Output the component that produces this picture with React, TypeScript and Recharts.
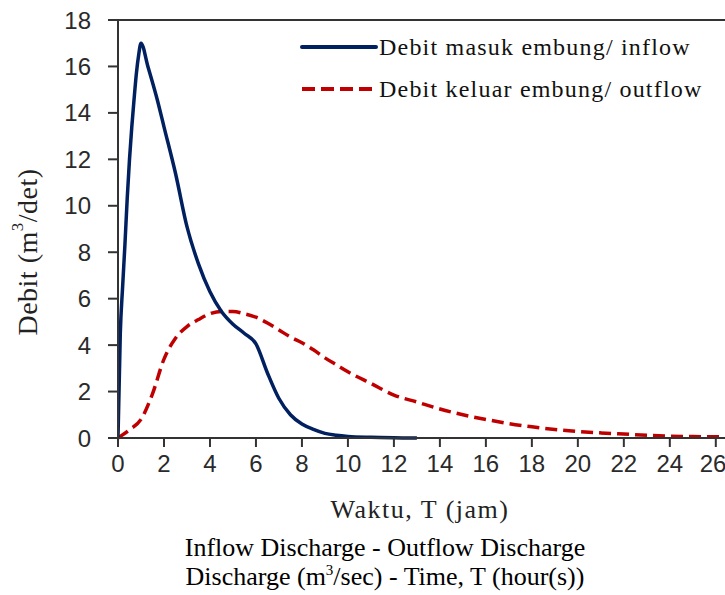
import React from 'react';
import {
  LineChart,
  Line,
  XAxis,
  YAxis,
  ReferenceLine,
} from 'recharts';

// waktu (jam) dan debit (m3/det)
const inflowTime = [0, 0.1, 0.2, 0.3, 0.4, 0.5, 0.6, 0.7, 0.8, 0.9, 1.0, 1.3, 1.7, 2, 2.5, 3, 3.5, 4, 4.5, 5, 5.5, 6, 6.5, 7, 7.5, 8, 8.5, 9, 9.5, 10, 11, 12, 13];
const inflowQ = [0, 4.5, 6.5, 8.3, 10.3, 12, 13.4, 14.6, 15.7, 16.5, 17, 16, 14.6, 13.4, 11.4, 9.1, 7.5, 6.3, 5.45, 4.9, 4.5, 4.05, 2.8, 1.7, 1.0, 0.6, 0.37, 0.2, 0.12, 0.07, 0.03, 0.01, 0];

const outflowTime = [0, 0.5, 1, 1.5, 2, 2.5, 3, 3.5, 4, 4.5, 5, 5.5, 6, 6.5, 7, 7.5, 8, 8.5, 9, 9.5, 10, 11, 12, 13, 14, 15, 16, 17, 18, 19, 20, 21, 22, 23, 24, 25, 26, 26.4];
const outflowQ = [0, 0.35, 0.8, 1.9, 3.4, 4.3, 4.8, 5.1, 5.35, 5.45, 5.45, 5.35, 5.2, 4.95, 4.65, 4.35, 4.1, 3.8, 3.45, 3.15, 2.85, 2.35, 1.85, 1.55, 1.25, 1.0, 0.8, 0.62, 0.48, 0.37, 0.28, 0.22, 0.17, 0.12, 0.08, 0.06, 0.05, 0.05];

const xTicks = [0, 2, 4, 6, 8, 10, 12, 14, 16, 18, 20, 22, 24, 26];
const yTicks = [0, 2, 4, 6, 8, 10, 12, 14, 16, 18];

const inflowName = 'Debit masuk embung/ inflow';
const outflowName = 'Debit keluar embung/ outflow';

const inflowData = inflowTime.map((t, i) => ({ t, q: inflowQ[i] }));
const outflowData = outflowTime.map((t, i) => ({ t, q: outflowQ[i] }));

const BLUE = '#002060';
const RED = '#C00000';
const AXIS = '#333333';
const tickFont = { fontFamily: '"Liberation Sans", Arial, sans-serif', fontSize: 24, fill: '#2a2a2a' };
const serif = '"Liberation Serif", "Times New Roman", serif';

const YLabel = () => (
  <text
    x={27}
    y={252}
    transform="rotate(-90 27 252)"
    textAnchor="middle"
    dominantBaseline="central"
    fontFamily={serif}
    fontSize={28}
    letterSpacing={0.5}
    fill="#222"
  >
    Debit (m<tspan dy={-10} fontSize={17}>3</tspan>
    <tspan dy={10}>/det)</tspan>
  </text>
);

const XLabel = () => (
  <text x={420} y={518} textAnchor="middle" fontFamily={serif} fontSize={26} letterSpacing={1.5} fill="#222">
    Waktu, T (jam)
  </text>
);

export default function App() {
  return (
    <div style={{ position: 'absolute', left: 0, top: 0, width: 725, height: 595, background: '#fff', overflow: 'hidden' }}>
      <LineChart width={725} height={595} margin={{ top: 20, right: 0, left: 0, bottom: 97 }}>
        <XAxis
          dataKey="t"
          type="number"
          domain={[0, 26.4]}
          ticks={xTicks}
          allowDataOverflow
          height={60}
          tickSize={9}
          tickMargin={8}
          tick={tickFont}
          stroke={AXIS}
          strokeWidth={2}
          label={<XLabel />}
        />
        <YAxis
          type="number"
          domain={[0, 18]}
          ticks={yTicks}
          width={118}
          tickSize={10}
          tickMargin={17}
          tick={tickFont}
          stroke={AXIS}
          strokeWidth={2}
          label={<YLabel />}
        />
        <ReferenceLine y={18} stroke={AXIS} strokeWidth={2} />
        <Line
          data={outflowData}
          dataKey="q"
          name={outflowName}
          type="monotone"
          stroke={RED}
          strokeWidth={3.5}
          strokeDasharray="12 6"
          dot={false}
          isAnimationActive={false}
        />
        <Line
          data={inflowData}
          dataKey="q"
          name={inflowName}
          type="monotone"
          stroke={BLUE}
          strokeWidth={3.5}
          dot={false}
          isAnimationActive={false}
        />
      </LineChart>

      {/* legenda */}
      <div style={{ position: 'absolute', left: 300, top: 26, fontFamily: serif, fontSize: 24, letterSpacing: 1.2, color: '#111' }}>
        <div style={{ display: 'flex', alignItems: 'center', height: 42 }}>
          <svg width={79} height={10}>
            <line x1={2} y1={5} x2={76} y2={5} stroke={BLUE} strokeWidth={4} strokeLinecap="round" />
          </svg>
          <span>{inflowName}</span>
        </div>
        <div style={{ display: 'flex', alignItems: 'center', height: 42 }}>
          <svg width={79} height={10}>
            <line x1={2} y1={5} x2={76} y2={5} stroke={RED} strokeWidth={4} strokeDasharray="13 6" />
          </svg>
          <span>{outflowName}</span>
        </div>
      </div>

      {/* keterangan */}
      <div style={{ position: 'absolute', left: 0, width: 770, top: 533, textAlign: 'center', fontFamily: serif, fontSize: 26, color: '#000', lineHeight: '29px' }}>
        <div>Inflow Discharge - Outflow Discharge</div>
        <div>
          Discharge (m<sup style={{ fontSize: 15, lineHeight: 0 }}>3</sup>/sec) - Time, T (hour(s))
        </div>
      </div>
    </div>
  );
}
